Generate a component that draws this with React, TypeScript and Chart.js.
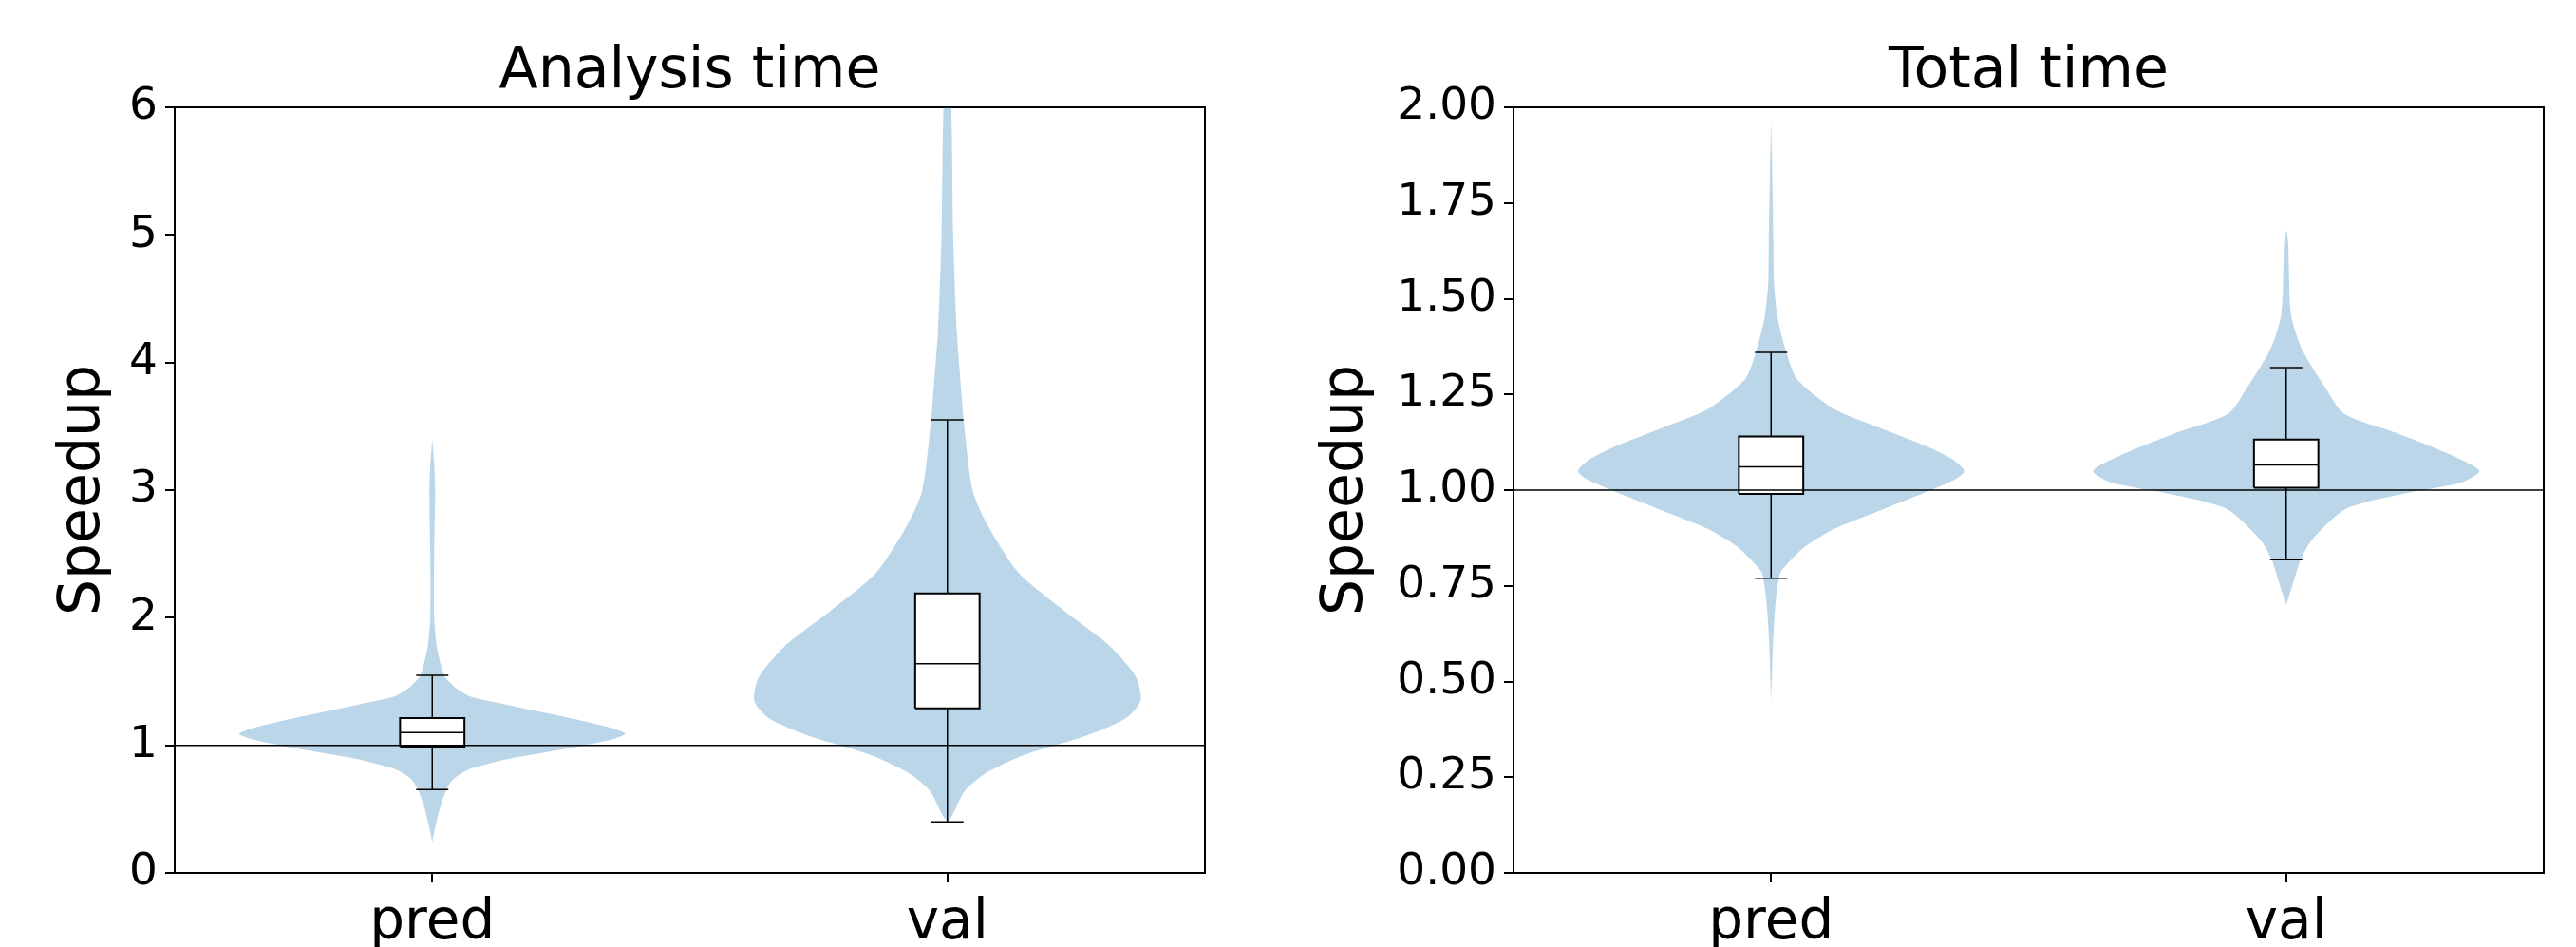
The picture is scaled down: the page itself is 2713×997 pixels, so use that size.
import React, { useEffect, useRef } from 'react';
import { Chart, registerables } from 'chart.js';

Chart.register(...registerables);
Chart.defaults.font.family = "'DejaVu Sans', sans-serif";
Chart.defaults.color = '#000';

// ---- data ----
const categories = ['pred', 'val'];
const categoryPositions = [1, 2];

const analysisTitle = 'Analysis time';
const totalTitle = 'Total time';
const yAxisLabel = 'Speedup';

const analysisYMax = 6;
const analysisYStep = 1;
const totalYMax = 2;
const totalYStep = 0.25;

const referenceValue = 1;

// violin profiles: speedup level and relative density (1 = widest)
const analysisPredY = [0.24, 0.32, 0.51, 0.66, 0.74, 0.81, 0.89, 0.94, 0.99, 1.05, 1.09, 1.13, 1.2, 1.26, 1.32, 1.38, 1.44, 1.51, 1.55, 1.76, 2.0, 2.5, 3.0, 3.2, 3.4];
const analysisPredDensity = [0, 0.01, 0.04, 0.076, 0.113, 0.187, 0.38, 0.567, 0.754, 0.94, 1.0, 0.94, 0.754, 0.567, 0.38, 0.2, 0.13, 0.08, 0.06, 0.025, 0.01, 0.01, 0.015, 0.01, 0];

const analysisValY = [0.4, 0.45, 0.64, 0.78, 0.93, 1.07, 1.21, 1.35, 1.54, 1.78, 2.06, 2.35, 2.72, 3.0, 3.55, 3.74, 4.24, 5.0, 6.0, 6.3];
const analysisValDensity = [0, 0.025, 0.089, 0.197, 0.409, 0.709, 0.921, 1.0, 0.975, 0.84, 0.6, 0.37, 0.21, 0.13, 0.084, 0.074, 0.049, 0.03, 0.02, 0];

const totalPredY = [0.45, 0.6, 0.7, 0.77, 0.79, 0.85, 0.9, 0.95, 1.0, 1.03, 1.05, 1.08, 1.11, 1.16, 1.21, 1.29, 1.36, 1.45, 1.54, 1.65, 1.8, 1.97];
const totalPredDensity = [0, 0.01, 0.022, 0.04, 0.054, 0.17, 0.333, 0.58, 0.826, 0.959, 1.0, 0.941, 0.826, 0.576, 0.333, 0.135, 0.079, 0.034, 0.015, 0.012, 0.007, 0];

const totalValY = [0.7, 0.77, 0.82, 0.87, 0.95, 0.99, 1.02, 1.05, 1.09, 1.15, 1.2, 1.27, 1.37, 1.46, 1.65, 1.68];
const totalValDensity = [0, 0.044, 0.076, 0.133, 0.305, 0.6, 0.906, 1.0, 0.862, 0.567, 0.3, 0.2, 0.08, 0.025, 0.01, 0];

// box stats: [lower whisker, Q1, median, Q3, upper whisker]
const analysisPredBox = [0.653, 0.99, 1.1, 1.213, 1.548];
const analysisValBox = [0.4, 1.29, 1.64, 2.19, 3.55];
const totalPredBox = [0.77, 0.99, 1.061, 1.14, 1.36];
const totalValBox = [0.818, 1.006, 1.066, 1.132, 1.32];

// ---- styling ----
const VIOLIN_COLOR = 'rgba(31,119,180,0.3)';
const VIOLIN_HALF = 0.375;
const BOX_HALF = 0.0625;
const CAP_HALF = 0.03125;

function violinDataset(pos: number, ys: number[], dens: number[]) {
  const right = ys.map((y, i) => ({ x: pos + dens[i] * VIOLIN_HALF, y }));
  const left = ys.map((y, i) => ({ x: pos - dens[i] * VIOLIN_HALF, y })).reverse();
  return {
    data: [...right, ...left],
    showLine: true,
    fill: 'shape',
    backgroundColor: VIOLIN_COLOR,
    borderColor: 'rgba(0,0,0,0)',
    borderWidth: 0,
    pointRadius: 0,
    tension: 0.25,
    order: 5,
  };
}

function seg(points: { x: number; y: number }[], width: number, order: number, fillColor?: string) {
  return {
    data: points,
    showLine: true,
    fill: fillColor ? 'shape' : false,
    backgroundColor: fillColor || 'rgba(0,0,0,0)',
    borderColor: '#000',
    borderWidth: width,
    pointRadius: 0,
    tension: 0,
    order,
  };
}

function boxDatasets(pos: number, s: number[]) {
  const [lo, q1, med, q3, hi] = s;
  return [
    seg([
      { x: pos - BOX_HALF, y: q1 }, { x: pos + BOX_HALF, y: q1 },
      { x: pos + BOX_HALF, y: q3 }, { x: pos - BOX_HALF, y: q3 }, { x: pos - BOX_HALF, y: q1 },
    ], 2, 3, '#ffffff'),
    seg([{ x: pos - BOX_HALF, y: med }, { x: pos + BOX_HALF, y: med }], 1.5, 2),
    seg([{ x: pos, y: q3 }, { x: pos, y: hi }], 1.5, 2),
    seg([{ x: pos, y: q1 }, { x: pos, y: lo }], 1.5, 2),
    seg([{ x: pos - CAP_HALF, y: hi }, { x: pos + CAP_HALF, y: hi }], 1.5, 2),
    seg([{ x: pos - CAP_HALF, y: lo }, { x: pos + CAP_HALF, y: lo }], 1.5, 2),
  ];
}

interface PanelCfg {
  title: string;
  violins: { y: number[]; d: number[] }[];
  boxes: number[][];
  yMax: number;
  yStep: number;
  decimals: number;
  yAxisWidth: number;
  yTitlePad: number;
  rightPad: number;
}

function buildConfig(p: PanelCfg): any {
  const datasets: any[] = [];
  p.violins.forEach((v, i) => datasets.push(violinDataset(categoryPositions[i], v.y, v.d)));
  p.boxes.forEach((b, i) => datasets.push(...boxDatasets(categoryPositions[i], b)));
  datasets.push(seg([{ x: 0.5, y: referenceValue }, { x: 2.5, y: referenceValue }], 1.5, 0));

  const spine = { display: true, color: '#000', width: 2 };
  return {
    type: 'scatter',
    data: { datasets },
    options: {
      animation: false,
      responsive: false,
      events: [],
      layout: { padding: { left: 0, right: p.rightPad, top: 0, bottom: 0 } },
      plugins: {
        legend: { display: false },
        tooltip: { enabled: false },
        title: {
          display: true,
          text: p.title,
          fullSize: false,
          color: '#000',
          font: { size: 60, weight: 'normal' },
          padding: { top: 40, bottom: 1 },
        },
      },
      scales: {
        x: {
          type: 'linear',
          position: 'bottom',
          min: 0.5,
          max: 2.5,
          afterBuildTicks: (s: any) => { s.ticks = categoryPositions.map((v) => ({ value: v })); },
          afterFit: (s: any) => { s.height = 78; },
          ticks: {
            autoSkip: false,
            maxRotation: 0,
            padding: 9,
            color: '#000',
            font: { size: 58 },
            callback: (v: any) => {
              const i = categoryPositions.indexOf(Number(v));
              return i >= 0 ? categories[i] : '';
            },
          },
          grid: { drawOnChartArea: false, drawTicks: true, tickLength: 10, tickWidth: 2, tickColor: '#000', lineWidth: 2, color: '#000' },
          border: spine,
        },
        y: {
          type: 'linear',
          position: 'left',
          min: 0,
          max: p.yMax,
          afterFit: (s: any) => { s.width = p.yAxisWidth; },
          ticks: {
            stepSize: p.yStep,
            padding: 8,
            color: '#000',
            font: { size: 47 },
            callback: (v: any) => Number(v).toFixed(p.decimals),
          },
          title: {
            display: true,
            text: yAxisLabel,
            color: '#000',
            font: { size: 60 },
            padding: { top: p.yTitlePad, bottom: 0 },
          },
          grid: { drawOnChartArea: false, drawTicks: true, tickLength: 10, tickWidth: 2, tickColor: '#000', lineWidth: 2, color: '#000' },
          border: spine,
        },
        xTop: {
          type: 'linear',
          position: 'top',
          min: 0.5,
          max: 2.5,
          afterFit: (s: any) => { s.height = 0; },
          ticks: { display: false },
          grid: { display: false },
          border: spine,
        },
        yRight: {
          type: 'linear',
          position: 'right',
          min: 0,
          max: p.yMax,
          afterFit: (s: any) => { s.width = 0; },
          ticks: { display: false },
          grid: { display: false },
          border: spine,
        },
      },
    },
  };
}

const W1 = 1356;
const W2 = 1357;
const H = 997;

export default function App() {
  const c1 = useRef<HTMLCanvasElement>(null);
  const c2 = useRef<HTMLCanvasElement>(null);

  useEffect(() => {
    const ch1 = new Chart(c1.current as HTMLCanvasElement, buildConfig({
      title: analysisTitle,
      violins: [
        { y: analysisPredY, d: analysisPredDensity },
        { y: analysisValY, d: analysisValDensity },
      ],
      boxes: [analysisPredBox, analysisValBox],
      yMax: analysisYMax,
      yStep: analysisYStep,
      decimals: 0,
      yAxisWidth: 184,
      yTitlePad: 52,
      rightPad: W1 - 1269,
    }));
    const ch2 = new Chart(c2.current as HTMLCanvasElement, buildConfig({
      title: totalTitle,
      violins: [
        { y: totalPredY, d: totalPredDensity },
        { y: totalValY, d: totalValDensity },
      ],
      boxes: [totalPredBox, totalValBox],
      yMax: totalYMax,
      yStep: totalYStep,
      decimals: 2,
      yAxisWidth: 238,
      yTitlePad: 26,
      rightPad: W2 - 1323,
    }));
    return () => { ch1.destroy(); ch2.destroy(); };
  }, []);

  return (
    <div style={{ position: 'absolute', left: 0, top: 0, width: W1 + W2, height: H, background: '#fff', overflow: 'hidden' }}>
      <canvas ref={c1} width={W1} height={H} style={{ position: 'absolute', left: 0, top: 0, width: W1, height: H }} />
      <canvas ref={c2} width={W2} height={H} style={{ position: 'absolute', left: W1, top: 0, width: W2, height: H }} />
    </div>
  );
}
